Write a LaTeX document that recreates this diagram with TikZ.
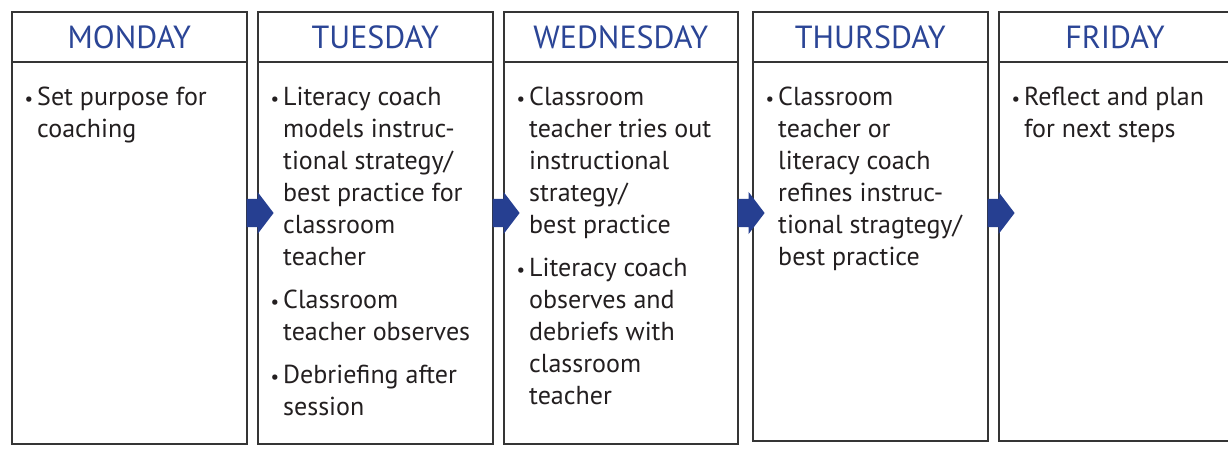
\documentclass[tikz,border=0pt]{standalone}
\usepackage{fontspec}
\setmainfont{PT Sans}
\usetikzlibrary{calc}
\definecolor{hdrblue}{HTML}{2B4596}
\definecolor{arrblue}{HTML}{263F91}
\definecolor{linegray}{HTML}{353535}
\definecolor{ink}{HTML}{231F20}
\newcommand{\bul}{\strut\makebox[12pt][l]{\hspace{-0.5pt}{\fontsize{19}{19}\selectfont •}}}
\newcommand{\ind}{\hspace*{12pt}}
\begin{document}
\begin{tikzpicture}[x=1pt,y=-1pt,
  daybox/.style={draw=linegray, line width=1.6pt, anchor=north west, inner sep=0pt, fill=white},
  hdr/.style={text=hdrblue, font=\fontsize{32}{36}\selectfont, inner sep=0pt, anchor=base},
  body/.style={text=ink, font=\fontsize{26}{32}\selectfont, align=left, inner sep=0pt, anchor=north west},
  dayarrow/.style={fill=arrblue}]
\useasboundingbox (0,0) rectangle (1228,449);
\clip (0,0) rectangle (1228,449);
\fill[white] (0,0) rectangle (1228,449);
% boxes
\node[daybox, minimum width=235pt, minimum height=432pt] (mon) at (11,11) {};
\node[daybox, minimum width=235pt, minimum height=432pt] (tue) at (257,11) {};
\node[daybox, minimum width=234pt, minimum height=432pt] (wed) at (503,11) {};
\node[daybox, minimum width=235pt, minimum height=429pt] (thu) at (752,11) {};
\node[daybox, minimum width=245pt, minimum height=429pt] (fri) at (998,11) {};
% header lines
\foreach \b in {mon,tue,wed,thu,fri}
  \draw[draw=linegray, line width=1.4pt] ($(\b.north west)+(0,51)$) -- ($(\b.north east)+(0,51)$);
% headers
\node[hdr] (monh) at ($(mon.north)+(0,38)$) {MONDAY};
\node[hdr] (tueh) at ($(tue.north)+(0,38)$) {TUESDAY};
\node[hdr] (wedh) at ($(wed.north)+(0,38)$) {WEDNESDAY};
\node[hdr] (thuh) at ($(thu.north)+(0,38)$) {THURSDAY};
\node[hdr] (frih) at (1115,49) {FRIDAY};
% bodies
\node[body] (monb) at ($(mon.north west)+(14,71.6)$) {\bul Set purpose for\\\ind coaching};
\node[body] (tueb) at ($(tue.north west)+(14,71.6)$) {\bul Literacy coach\\\ind models instruc-\\\ind tional strategy/\\\ind best practice for\\\ind classroom\\\ind teacher\\[11pt]\bul Classroom\\\ind teacher observes\\[11pt]\bul Debriefing after\\\ind session};
\node[body] (wedb) at ($(wed.north west)+(14,71.6)$) {\bul Classroom\\\ind teacher tries out\\\ind instructional\\\ind strategy/\\\ind best practice\\[11pt]\bul Literacy coach\\\ind observes and\\\ind debriefs with\\\ind classroom\\\ind teacher};
\node[body] (thub) at ($(thu.north west)+(14,71.6)$) {\bul Classroom\\\ind teacher or\\\ind literacy coach\\\ind refines instruc-\\\ind tional stragtegy/\\\ind best practice};
\node[body] (frib) at ($(fri.north west)+(14,71.6)$) {\bul Reflect and plan\\\ind for next steps};
% arrows
\foreach \a in {mon,tue,wed,thu}
  \fill[dayarrow] ($(\a.north east)+(-1,188)$) -- ++(11,0) -- ++(0,-7) -- ++(16,21) -- ++(-16,21) -- ++(0,-7) -- ++(-11,0) -- cycle;
\end{tikzpicture}
\end{document}
